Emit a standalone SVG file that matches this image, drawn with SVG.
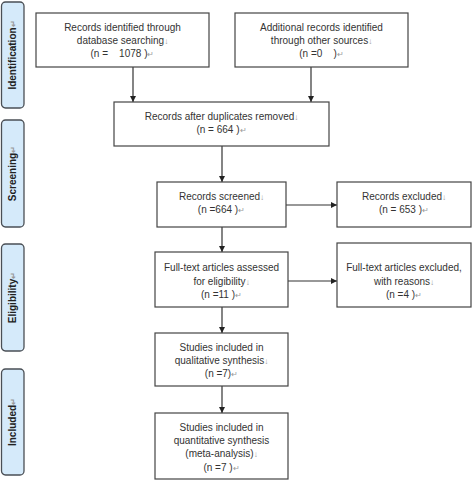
<svg xmlns="http://www.w3.org/2000/svg" width="472" height="481" viewBox="0 0 472 481">
<style>
.bx{fill:#fff;stroke:#444;stroke-width:1.2}
.side{fill:#d5eafa;stroke:#4a4f55;stroke-width:1.3}
.t{font-family:"Liberation Sans",Arial,sans-serif;font-size:10px;fill:#333;text-anchor:middle}
.s{font-family:"Liberation Sans",Arial,sans-serif;font-size:10px;font-weight:bold;fill:#222;text-anchor:middle}
.m{fill:#999;font-size:8px}
.c{stroke:#333;stroke-width:1.2;fill:none;marker-end:url(#ah)}
</style>
<defs>
<marker id="ah" viewBox="0 0 10 10" refX="10" refY="5" markerWidth="6" markerHeight="6" markerUnits="userSpaceOnUse" orient="auto">
<path d="M0,0 L10,5 L0,10 z" fill="#222"/>
</marker>
</defs>
<rect width="472" height="481" fill="#fff"/>

<g id="side-identification">
<rect class="side" x="1.5" y="2" width="22.5" height="106" rx="4"/>
<text class="s" transform="translate(16,55) rotate(-90)">Identification<tspan class="m">↵</tspan></text>
</g>
<g id="side-screening">
<rect class="side" x="1.5" y="120" width="22.5" height="107" rx="4"/>
<text class="s" transform="translate(16,173.5) rotate(-90)">Screening<tspan class="m">↵</tspan></text>
</g>
<g id="side-eligibility">
<rect class="side" x="1.5" y="244" width="22.5" height="107" rx="4"/>
<text class="s" transform="translate(16,297.5) rotate(-90)">Eligibility<tspan class="m">↵</tspan></text>
</g>
<g id="side-included">
<rect class="side" x="1.5" y="369" width="22.5" height="106" rx="4"/>
<text class="s" transform="translate(16,422) rotate(-90)">Included<tspan class="m">↵</tspan></text>
</g>

<g id="connectors">
<line class="c" x1="133" y1="67" x2="133" y2="102"/>
<line class="c" x1="311" y1="67" x2="311" y2="102"/>
<line class="c" x1="222" y1="146" x2="222" y2="182"/>
<line class="c" x1="286" y1="205" x2="337" y2="205"/>
<line class="c" x1="222" y1="227" x2="222" y2="252"/>
<line class="c" x1="288" y1="281" x2="337" y2="281"/>
<line class="c" x1="222" y1="307" x2="222" y2="333"/>
<line class="c" x1="222" y1="386" x2="222" y2="413"/>
</g>

<g id="n-db">
<rect class="bx" x="36" y="13" width="173" height="54"/>
<text class="t" x="122.5" y="31">Records identified through</text>
<text class="t" x="122.5" y="44">database searching<tspan class="m">↓</tspan></text>
<text class="t" x="122.5" y="57" xml:space="preserve">(n =    1078 )<tspan class="m">↵</tspan></text>
</g>
<g id="n-other">
<rect class="bx" x="235" y="13" width="173" height="54"/>
<text class="t" x="321.5" y="31">Additional records identified</text>
<text class="t" x="321.5" y="44">through other sources<tspan class="m">↓</tspan></text>
<text class="t" x="321.5" y="57" xml:space="preserve">(n =0    )<tspan class="m">↵</tspan></text>
</g>
<g id="n-dup">
<rect class="bx" x="114" y="102" width="215" height="44"/>
<text class="t" x="221.5" y="120">Records after duplicates removed<tspan class="m">↓</tspan></text>
<text class="t" x="221.5" y="133">(n = 664 )<tspan class="m">↵</tspan></text>
</g>
<g id="n-screened">
<rect class="bx" x="157" y="182" width="129" height="45"/>
<text class="t" x="221.5" y="200">Records screened<tspan class="m">↓</tspan></text>
<text class="t" x="221.5" y="213">(n =664 )<tspan class="m">↵</tspan></text>
</g>
<g id="n-excluded">
<rect class="bx" x="337" y="182" width="134" height="45"/>
<text class="t" x="404" y="200">Records excluded<tspan class="m">↓</tspan></text>
<text class="t" x="404" y="213">(n = 653 )<tspan class="m">↵</tspan></text>
</g>
<g id="n-fulltext">
<rect class="bx" x="155" y="252" width="133" height="55"/>
<text class="t" x="221.5" y="271">Full-text articles assessed</text>
<text class="t" x="221.5" y="285">for eligibility<tspan class="m">↓</tspan></text>
<text class="t" x="221.5" y="298">(n =11 )<tspan class="m">↵</tspan></text>
</g>
<g id="n-ftexcluded">
<rect class="bx" x="337" y="243" width="134" height="64"/>
<text class="t" x="404" y="271">Full-text articles excluded,</text>
<text class="t" x="404" y="285">with reasons<tspan class="m">↓</tspan></text>
<text class="t" x="404" y="298">(n =4 )<tspan class="m">↵</tspan></text>
</g>
<g id="n-qual">
<rect class="bx" x="155" y="333" width="133" height="53"/>
<text class="t" x="221.5" y="351">Studies included in</text>
<text class="t" x="221.5" y="364">qualitative synthesis<tspan class="m">↓</tspan></text>
<text class="t" x="221.5" y="377">(n =7)<tspan class="m">↵</tspan></text>
</g>
<g id="n-quant">
<rect class="bx" x="155" y="413" width="133" height="66"/>
<text class="t" x="221.5" y="431">Studies included in</text>
<text class="t" x="221.5" y="444">quantitative synthesis</text>
<text class="t" x="221.5" y="457">(meta-analysis)<tspan class="m">↓</tspan></text>
<text class="t" x="221.5" y="471">(n =7 )<tspan class="m">↵</tspan></text>
</g>
</svg>
